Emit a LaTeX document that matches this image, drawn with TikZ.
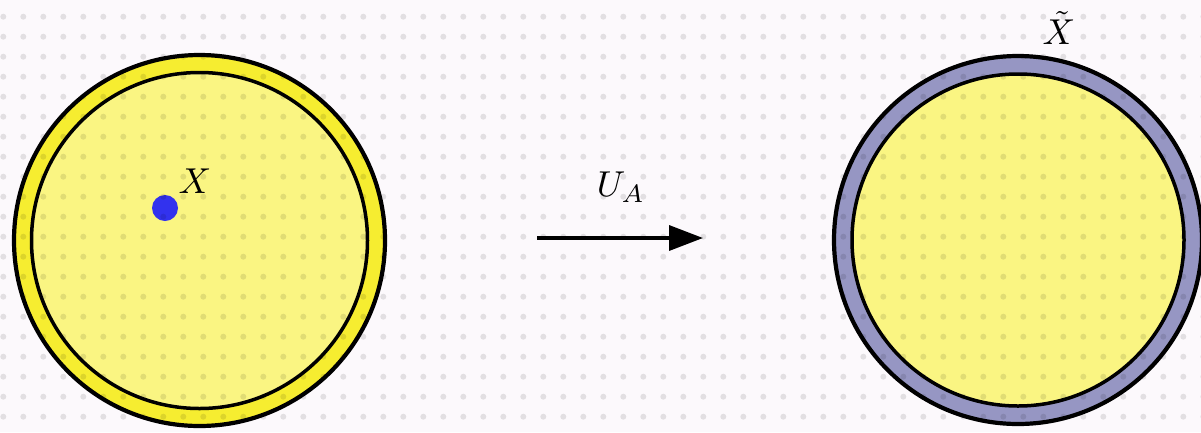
\documentclass[tikz,border=0pt]{standalone}
\usetikzlibrary{arrows.meta}
\definecolor{bgc}{RGB}{252,249,252}
\definecolor{ringY}{RGB}{246,237,48}
\definecolor{fillY}{RGB}{250,245,130}
\definecolor{ringP}{RGB}{150,150,195}
\definecolor{dotB}{RGB}{50,50,238}
\tikzset{
  disk/.style={circle, inner sep=0pt, draw=black, line width=#1},
  lbl/.style={inner sep=0pt, font=\normalsize, scale=3.6},
  griddot/.style={fill=black, opacity=0.1}
}
\begin{document}
\begin{tikzpicture}[x=1pt,y=-1pt]
\fill[bgc] (0,0) rectangle (1201,432);
\useasboundingbox (0,0) rectangle (1201,432);
% left
\node[disk=4.2pt, fill=ringY, minimum size=371pt] (Lout) at (199.5,240.5) {};
\node[disk=3.5pt, fill=fillY, minimum size=336pt] (Lin) at (199.5,240.5) {};
\node[circle, fill=dotB, inner sep=0pt, minimum size=26pt] (pt) at (165,208) {};
\node[lbl] (Xl) at (195,181) {$X$};
% right
\node[disk=4.2pt, fill=ringP, minimum size=368pt] (Rout) at (1018,240) {};
\node[disk=3.5pt, fill=fillY, minimum size=332pt] (Rin) at (1018,240) {};
\node[lbl] (Xt) at (1059,28) {$\tilde{X}$};
% arrow
\coordinate (a1) at (537,238);
\coordinate (a2) at (703,238);
\draw[line width=3.5pt, -{Triangle[length=34pt,width=25pt]}] (a1) -- (a2);
\node[lbl] (UA) at (621,187) {$U_A$};
% dot grid
\foreach \i in {0,...,60}{
  \foreach \j in {0,...,21}{
    \fill[griddot] (3.3+20*\i,16.7+20*\j) circle (3pt);
  }
}
\end{tikzpicture}
\end{document}
